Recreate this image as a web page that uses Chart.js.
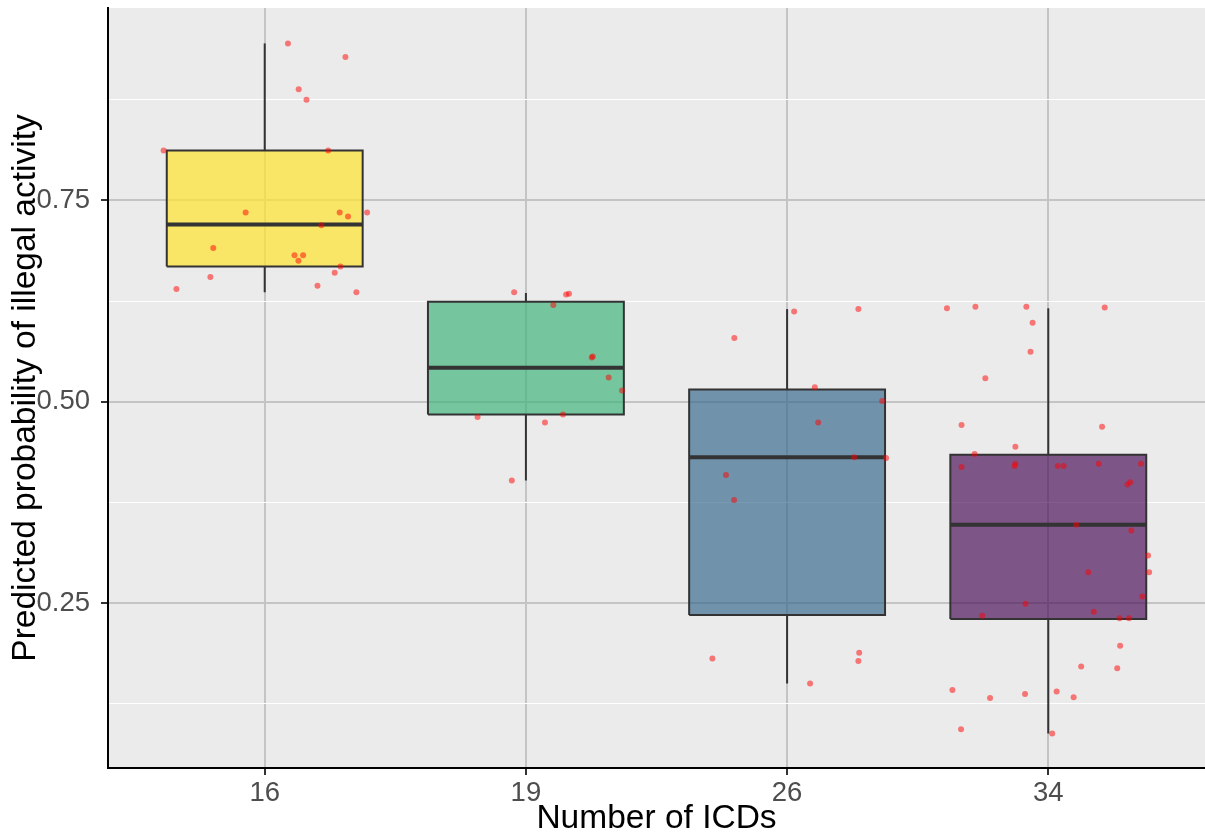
<!DOCTYPE html>
<html>
<head>
<meta charset="utf-8">
<script src="https://cdn.jsdelivr.net/npm/chart.js@4.4.1/dist/chart.umd.min.js"></script>
<style>
  html, body { margin: 0; padding: 0; background: #ffffff; }
  #wrap { width: 1205px; height: 836px; position: relative; }
</style>
</head>
<body>
<div id="wrap"><canvas id="c" width="1205" height="836"></canvas></div>
<script>
// ---------------- data ----------------
const categories = ['16', '19', '26', '34'];
const yMajorTicks = [0.25, 0.50, 0.75];
const yMinorTicks = [0.125, 0.375, 0.625, 0.875];
const yTickLabels = ['0.25', '0.50', '0.75'];

const boxQ1      = [0.668, 0.484, 0.235, 0.230];
const boxMedian  = [0.720, 0.542, 0.431, 0.347];
const boxQ3      = [0.812, 0.624, 0.515, 0.434];
const whiskerLow = [0.636, 0.402, 0.150, 0.088];
const whiskerHigh= [0.945, 0.635, 0.615, 0.616];

const jitter16 = [0.089,0.309,0.130,0.160,-0.387,0.243,-0.073,0.287,0.319,0.392,0.217,-0.197,0.114,0.147,0.129,0.290,0.268,-0.208,-0.338,0.202,0.351];
const prob16   = [0.945,0.928,0.888,0.875,0.812,0.812,0.735,0.735,0.730,0.735,0.719,0.691,0.682,0.682,0.675,0.668,0.660,0.655,0.640,0.644,0.636];

const jitter19 = [-0.045,0.154,0.165,0.105,0.252,0.256,0.317,0.368,-0.185,0.142,0.073,-0.054];
const prob19   = [0.636,0.633,0.634,0.620,0.555,0.556,0.530,0.514,0.481,0.484,0.474,0.402];

const jitter26 = [0.027,0.273,-0.202,0.106,0.364,0.119,0.257,0.379,-0.234,-0.203,-0.286,0.276,0.273,0.088];
const prob26   = [0.612,0.615,0.579,0.518,0.501,0.474,0.431,0.430,0.409,0.378,0.181,0.188,0.178,0.150];

const jitter34 = [-0.388,-0.279,-0.084,0.216,-0.060,-0.068,-0.241,-0.332,0.206,-0.126,-0.282,-0.332,-0.126,-0.129,0.036,0.059,0.193,0.355,0.314,0.303,0.107,0.318,0.382,0.153,0.386,0.360,-0.087,-0.253,0.174,0.273,0.309,0.275,0.126,0.264,-0.367,-0.223,-0.089,0.032,0.097,-0.334,0.015];
const prob34   = [0.616,0.618,0.618,0.617,0.598,0.562,0.529,0.471,0.469,0.444,0.435,0.419,0.423,0.420,0.420,0.420,0.423,0.423,0.400,0.397,0.347,0.340,0.309,0.288,0.288,0.258,0.249,0.234,0.239,0.231,0.231,0.197,0.171,0.169,0.142,0.132,0.137,0.140,0.133,0.093,0.088];

const boxFills = ['rgba(253,226,50,0.72)', 'rgba(60,180,122,0.68)', 'rgba(49,100,138,0.66)', 'rgba(68,8,84,0.66)'];

// ---------------- build datasets ----------------
const groupJitter = [jitter16, jitter19, jitter26, jitter34];
const groupProb = [prob16, prob19, prob26, prob34];
const halfWidth = 0.375;
const lineCol = '#333333';

const points = [];
groupJitter.forEach((jit, g) => {
  jit.forEach((dx, i) => points.push({ x: g + 1 + dx, y: groupProb[g][i] }));
});

const datasets = [{
  type: 'scatter',
  data: points,
  order: 0,
  pointRadius: 3,
  pointBorderWidth: 0,
  pointBackgroundColor: 'rgba(255,0,0,0.5)',
  pointBorderColor: 'rgba(255,0,0,0)'
}];

categories.forEach((c, g) => {
  const cx = g + 1;
  datasets.push({
    type: 'line', order: 1, fill: false, borderColor: lineCol, borderWidth: 4, pointRadius: 0,
    borderCapStyle: 'butt',
    data: [{ x: cx - halfWidth, y: boxMedian[g] }, { x: cx + halfWidth, y: boxMedian[g] }]
  });
  datasets.push({
    type: 'line', order: 2, fill: 'shape', backgroundColor: boxFills[g],
    borderColor: lineCol, borderWidth: 2, pointRadius: 0, tension: 0, borderJoinStyle: 'miter',
    data: [
      { x: cx - halfWidth, y: boxQ1[g] }, { x: cx + halfWidth, y: boxQ1[g] },
      { x: cx + halfWidth, y: boxQ3[g] }, { x: cx - halfWidth, y: boxQ3[g] },
      { x: cx - halfWidth, y: boxQ1[g] }
    ]
  });
  datasets.push({
    type: 'line', order: 3, fill: false, borderColor: lineCol, borderWidth: 2, pointRadius: 0,
    data: [{ x: cx, y: boxQ3[g] }, { x: cx, y: whiskerHigh[g] }]
  });
  datasets.push({
    type: 'line', order: 3, fill: false, borderColor: lineCol, borderWidth: 2, pointRadius: 0,
    data: [{ x: cx, y: boxQ1[g] }, { x: cx, y: whiskerLow[g] }]
  });
});

const panelBg = {
  id: 'panelBg',
  beforeDraw(chart) {
    const a = chart.chartArea, ctx = chart.ctx;
    ctx.save();
    ctx.fillStyle = '#EBEBEB';
    ctx.fillRect(a.left, a.top, a.right - a.left, a.bottom - a.top);
    ctx.restore();
  }
};

const isMajor = v => yMajorTicks.some(m => Math.abs(m - v) < 1e-6);
const fontFamily = 'Liberation Sans, Arial, sans-serif';

new Chart(document.getElementById('c'), {
  type: 'scatter',
  data: { datasets },
  plugins: [panelBg],
  options: {
    responsive: false,
    animation: false,
    events: [],
    layout: { autoPadding: false, padding: { top: 8, right: 0, left: 0, bottom: 0 } },
    plugins: { legend: { display: false }, tooltip: { enabled: false } },
    scales: {
      x: {
        type: 'linear', min: 0.4, max: 4.6,
        afterBuildTicks: s => { s.ticks = categories.map((c, i) => ({ value: i + 1 })); },
        afterFit: s => { s.height = 68; s.paddingLeft = 0; s.paddingRight = 0; },
        ticks: {
          autoSkip: false, maxRotation: 0, padding: 2,
          color: '#4D4D4D',
          font: { family: fontFamily, size: 27.5 },
          callback: v => categories[Math.round(v) - 1]
        },
        grid: { color: '#C4C4C4', lineWidth: 2, tickLength: 7, tickColor: '#333333', tickWidth: 2 },
        border: { display: true, color: '#000000', width: 2 },
        title: {
          display: true, text: 'Number of ICDs', color: '#000000',
          font: { family: fontFamily, size: 33.5, lineHeight: 1 },
          padding: { top: 0, bottom: 0 }
        }
      },
      y: {
        type: 'linear', min: 0.045, max: 0.989,
        afterBuildTicks: s => {
          s.ticks = yMinorTicks.concat(yMajorTicks).sort((a, b) => a - b).map(v => ({ value: v }));
        },
        afterFit: s => { s.width = 108; s.paddingTop = 0; s.paddingBottom = 0; },
        ticks: {
          autoSkip: false, padding: 11,
          color: '#4D4D4D',
          font: { family: fontFamily, size: 27.5 },
          callback: v => {
            const i = yMajorTicks.findIndex(m => Math.abs(m - v) < 1e-6);
            return i >= 0 ? yTickLabels[i] : '';
          }
        },
        grid: {
          color: c => isMajor(c.tick.value) ? '#C4C4C4' : '#FFFFFF',
          lineWidth: c => isMajor(c.tick.value) ? 2 : 1,
          tickLength: 7,
          tickColor: c => isMajor(c.tick.value) ? '#333333' : 'rgba(0,0,0,0)',
          tickWidth: 2
        },
        border: { display: true, color: '#000000', width: 2 },
        title: {
          display: true, text: 'Predicted probability of illegal activity', color: '#000000',
          font: { family: fontFamily, size: 33.5, lineHeight: 1 },
          padding: { top: 9, bottom: 0 }
        }
      }
    }
  }
});
</script>
</body>
</html>
